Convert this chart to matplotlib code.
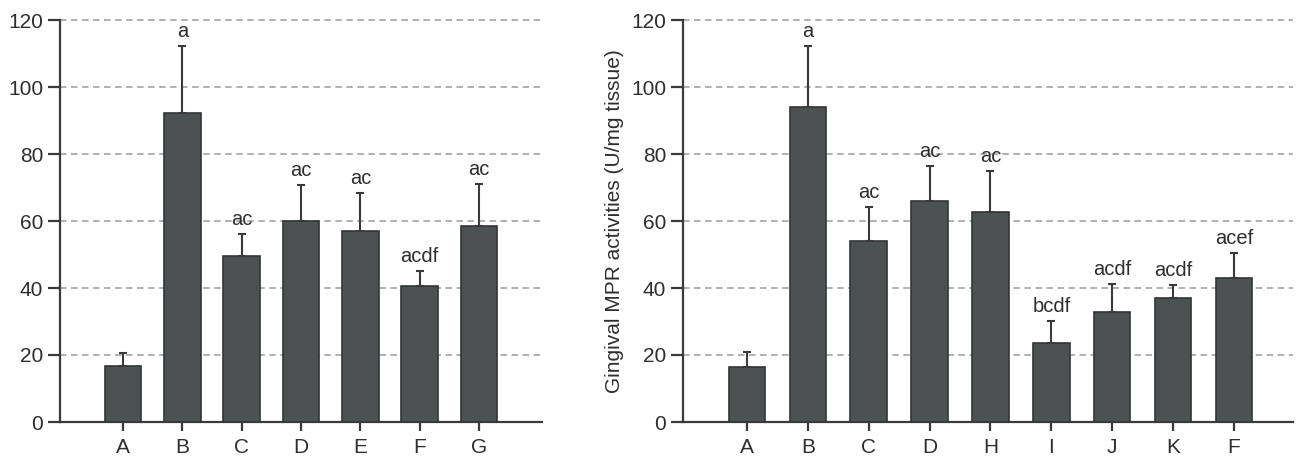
import matplotlib
matplotlib.use("Agg")
import matplotlib.pyplot as plt
import numpy as np

plt.rcParams['font.family'] = ['Liberation Sans', 'DejaVu Sans']

# ---- data ----
left_groups = ['A', 'B', 'C', 'D', 'E', 'F', 'G']
left_means = [16.8, 92.1, 49.6, 60.0, 57.0, 40.7, 58.5]
left_errs = [3.7, 20.1, 6.5, 10.7, 11.4, 4.5, 12.6]
left_letters = ['', 'a', 'ac', 'ac', 'ac', 'acdf', 'ac']

right_groups = ['A', 'B', 'C', 'D', 'H', 'I', 'J', 'K', 'F']
right_means = [16.5, 94.1, 54.1, 66.1, 62.6, 23.5, 32.9, 37.1, 42.9]
right_errs = [4.3, 18.1, 10.2, 10.3, 12.4, 6.6, 8.2, 3.7, 7.6]
right_letters = ['', 'a', 'ac', 'ac', 'ac', 'bcdf', 'acdf', 'acdf', 'acef']

y_ticks = [0, 20, 40, 60, 80, 100, 120]
y_label = 'Gingival MPR activities (U/mg tissue)'

BAR = '#4c5151'
EDGE = '#333636'
AXC = '#3a3a3a'
TXT = '#2e2e2e'
GRID = '#aaaaaa'

W, H = 1303, 468
fig = plt.figure(figsize=(W / 100, H / 100), dpi=100)

def px_axes(x0, x1, y0, y1):
    return fig.add_axes([x0 / W, 1 - y1 / H, (x1 - x0) / W, (y1 - y0) / H])

ax1 = px_axes(60, 542, 20, 422)
ax2 = px_axes(683, 1293, 20, 422)

def draw(ax, groups, means, errs, letters, xlim, width):
    x = np.arange(len(groups))
    ax.bar(x, means, width=width, color=BAR, edgecolor=EDGE, linewidth=1.2, zorder=3)
    ax.errorbar(x, means, yerr=[np.zeros(len(errs)), errs], fmt='none',
                ecolor=AXC, elinewidth=1.5, capsize=3, capthick=1.5, zorder=4)
    for xi, m, e, t in zip(x, means, errs, letters):
        if t:
            ax.text(xi, m + e + 2.7, t, ha='center', va='baseline',
                    fontsize=14.5, color=TXT, zorder=5)
    ax.set_xlim(*xlim)
    ax.set_ylim(0, 120)
    ax.set_yticks(y_ticks)
    ax.set_xticks(x)
    ax.set_xticklabels(groups)
    for s in ['top', 'right']:
        ax.spines[s].set_visible(False)
    for s in ['left', 'bottom']:
        ax.spines[s].set_color(AXC)
        ax.spines[s].set_linewidth(1.6)
    ax.tick_params(axis='y', length=9, width=1.6, color=AXC, pad=3,
                   labelsize=15, labelcolor=TXT)
    ax.tick_params(axis='x', length=6.5, width=1.6, color=AXC, pad=5,
                   labelsize=15, labelcolor=TXT)
    for yv in y_ticks[1:]:
        ax.axhline(yv, color=GRID, linestyle=(0, (3.6, 2.5)), linewidth=1.3, zorder=1,
                   clip_on=False)
    ax.set_ylabel(y_label, fontsize=15, color=TXT, labelpad=5)

draw(ax1, left_groups, left_means, left_errs, left_letters, (-1.06, 7.06), 0.62)
draw(ax2, right_groups, right_means, right_errs, right_letters, (-1.05, 8.97), 0.6)

fig.savefig('out.png', dpi=100)
